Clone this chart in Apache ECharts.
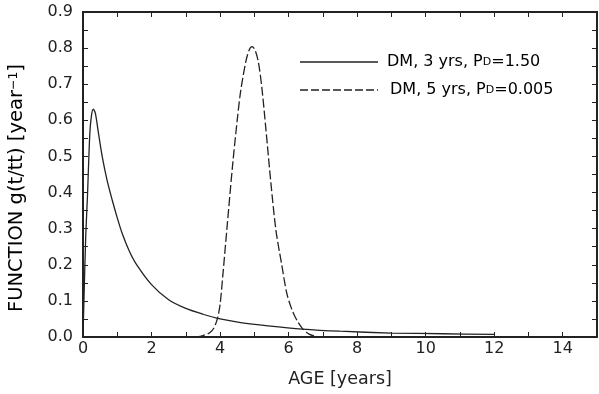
<!DOCTYPE html>
<html><head><meta charset="utf-8">
<script src="https://cdn.jsdelivr.net/npm/echarts@6/dist/echarts.min.js"></script>
<style>html,body{margin:0;padding:0;background:#fff}#c{width:599px;height:394px}</style>
</head><body><div id="c"></div>
<script>
const seriesNames = ['DM, 3 yrs, PD=1.50', 'DM, 5 yrs, PD=0.005'];
const ageA = [0, 0.03, 0.08, 0.13, 0.2, 0.25, 0.3, 0.36, 0.45, 0.56, 0.7, 0.85, 1.0, 1.15, 1.35, 1.54, 2.0, 2.5, 3.0, 3.5, 4.0, 4.6, 5.4, 6.4, 7.5, 9, 10.5, 12];
const gA   = [0, 0.11, 0.28, 0.39, 0.565, 0.615, 0.631, 0.62, 0.565, 0.5, 0.435, 0.38, 0.33, 0.285, 0.238, 0.204, 0.145, 0.103, 0.079, 0.063, 0.05, 0.04, 0.031, 0.022, 0.016, 0.011, 0.009, 0.007];
const ageB = [3.3, 3.5, 3.7, 3.82, 3.92, 4.0, 4.08, 4.2, 4.37, 4.5, 4.6, 4.75, 4.85, 4.93, 5.02, 5.12, 5.22, 5.34, 5.48, 5.63, 5.8, 5.95, 6.1, 6.25, 6.4, 6.6, 6.85];
const gB   = [0, 0.004, 0.012, 0.025, 0.05, 0.09, 0.17, 0.3, 0.48, 0.6, 0.68, 0.762, 0.795, 0.804, 0.795, 0.76, 0.69, 0.573, 0.43, 0.296, 0.2, 0.12, 0.075, 0.045, 0.024, 0.008, 0];
const xTicks = {min: 0, max: 15, interval: 2};
const yTicks = {min: 0, max: 0.9, interval: 0.1};

const col = '#222';
const font = '"DejaVu Sans", sans-serif';
const chart = echarts.init(document.getElementById('c'));
const pairs = (xs, ys) => xs.map((x, i) => [x, ys[i]]);
const baseAxis = {
  axisLine: {show: true, onZero: false, lineStyle: {color: col, width: 2}},
  axisTick: {show: true, inside: true, length: 5, lineStyle: {color: col, width: 1}},
  minorTick: {show: true, splitNumber: 2, length: 5, lineStyle: {color: col, width: 1}},
  splitLine: {show: false}
};
const richLegend = {
  s: {fontSize: 16, fontFamily: font, color: col},
  d: {fontSize: 11, fontFamily: font, color: col, verticalAlign: 'bottom', padding: [0, 0, 2, 0]}
};
const legendText = n => {
  const m = n.match(/^(.*)PD(.*)$/);
  return '{s|' + m[1] + 'P}{d|D}{s|' + m[2] + '}';
};
chart.setOption({
  animation: false,
  backgroundColor: '#fff',
  grid: {left: 83, right: 2, top: 12, bottom: 57},
  xAxis: [
    Object.assign({}, baseAxis, {type: 'value', min: xTicks.min, max: xTicks.max, interval: xTicks.interval, position: 'bottom',
      name: 'AGE [years]', nameLocation: 'middle', nameGap: 33,
      nameTextStyle: {color: col, fontFamily: font, fontSize: 17.5},
      axisLabel: {color: col, fontFamily: font, fontSize: 16, margin: 4, showMaxLabel: false}}),
    Object.assign({}, baseAxis, {type: 'value', min: xTicks.min, max: xTicks.max, interval: xTicks.interval, position: 'top',
      axisLabel: {show: false}})
  ],
  yAxis: [
    Object.assign({}, baseAxis, {type: 'value', min: yTicks.min, max: yTicks.max, interval: yTicks.interval, position: 'left',
      axisLabel: {color: col, fontFamily: font, fontSize: 16, margin: 10, formatter: v => v.toFixed(1)}}),
    Object.assign({}, baseAxis, {type: 'value', min: yTicks.min, max: yTicks.max, interval: yTicks.interval, position: 'right',
      axisLabel: {show: false}})
  ],
  graphic: [
    {type: 'text', x: 17, y: 188, rotation: Math.PI / 2,
      style: {text: '{m|FUNCTION g(t/tt) [year}{p|−1}{m|]}', align: 'center', verticalAlign: 'middle',
        rich: {m: {fontSize: 19.5, fontFamily: font, color: col},
               p: {fontSize: 12.5, fontFamily: font, color: col, verticalAlign: 'top'}}}},
    {type: 'line', shape: {x1: 300, y1: 62, x2: 378, y2: 62}, style: {stroke: col, lineWidth: 1.3}},
    {type: 'text', x: 387, y: 62, style: {text: legendText(seriesNames[0]), verticalAlign: 'middle', rich: richLegend}},
    {type: 'line', shape: {x1: 300, y1: 90, x2: 378, y2: 90}, style: {stroke: col, lineWidth: 1.3, lineDash: [8, 3]}},
    {type: 'text', x: 390, y: 90, style: {text: legendText(seriesNames[1]), verticalAlign: 'middle', rich: richLegend}}
  ],
  series: [
    {name: seriesNames[0], type: 'line', data: pairs(ageA, gA), smooth: 0.3, symbol: 'none',
      lineStyle: {color: col, width: 1.3, type: 'solid'}},
    {name: seriesNames[1], type: 'line', data: pairs(ageB, gB), smooth: 0.3, symbol: 'none',
      lineStyle: {color: col, width: 1.3, type: [9, 3]}}
  ]
});
</script></body></html>
